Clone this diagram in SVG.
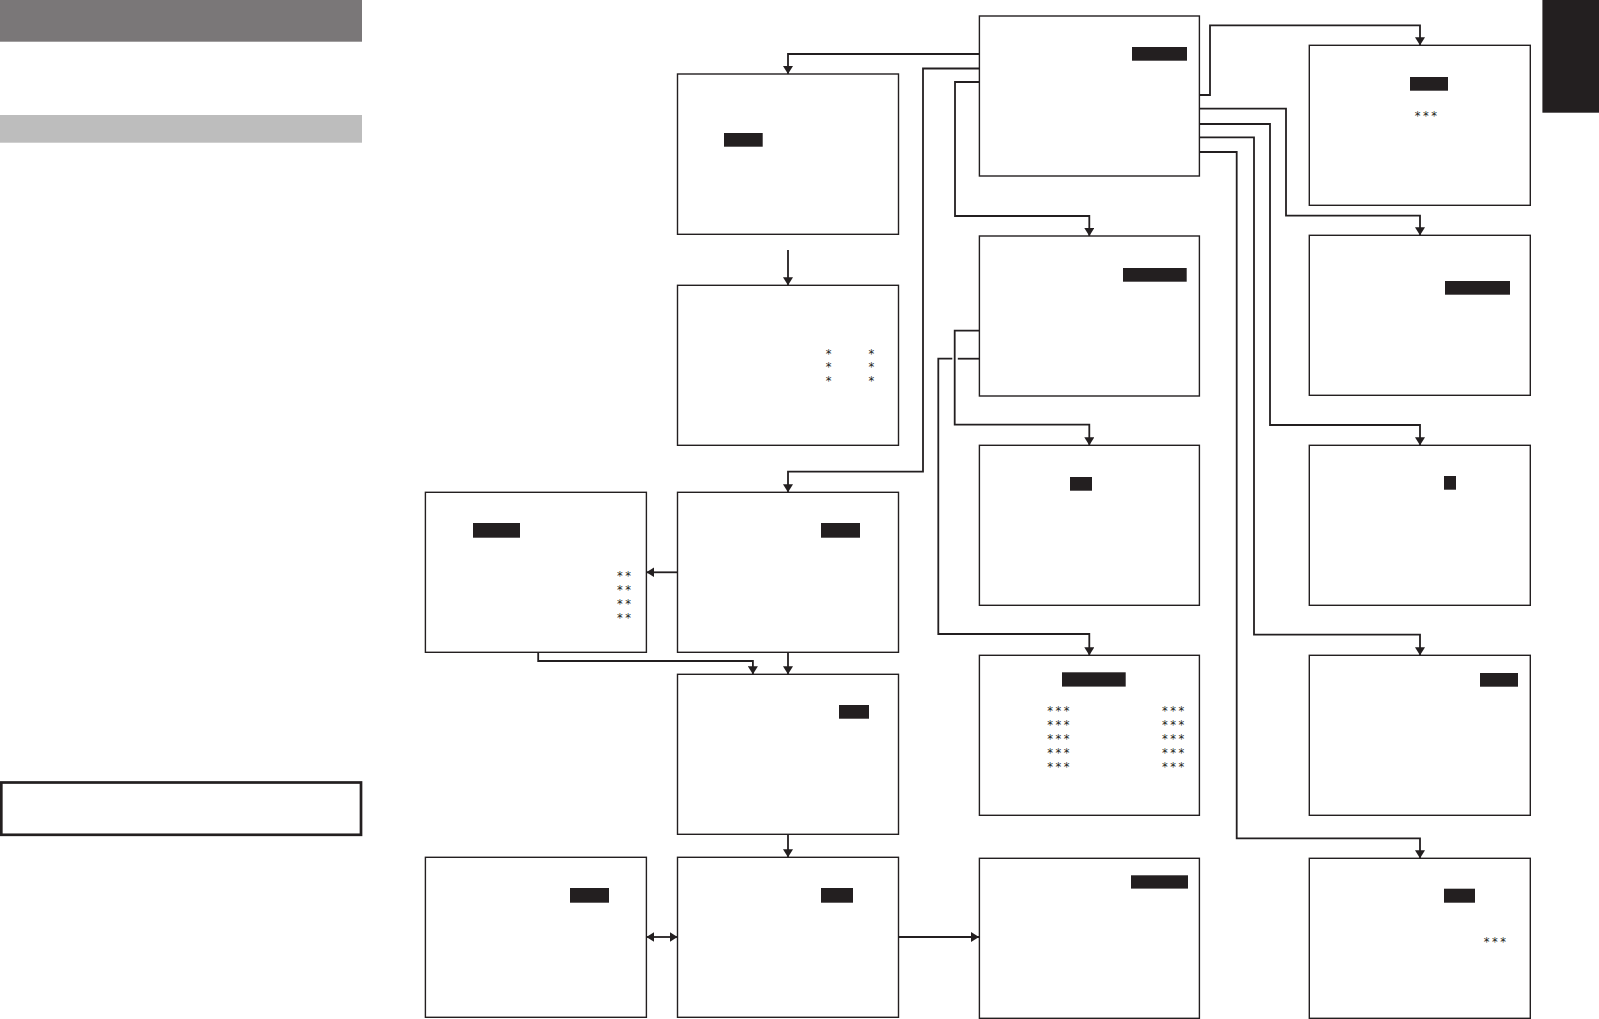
<svg xmlns="http://www.w3.org/2000/svg" width="1599" height="1019" viewBox="0 0 1599 1019">
<style>
.box{fill:#fff;stroke:#231f20;stroke-width:1.4}
.hl{fill:#231f20}
.ast{font-family:"DejaVu Sans","Liberation Sans",sans-serif;font-size:11.5px;fill:#231f20;text-anchor:middle;letter-spacing:2.5px}
.ast1{font-family:"DejaVu Sans","Liberation Sans",sans-serif;font-size:11.5px;fill:#231f20;text-anchor:middle}
.con{fill:none;stroke:#231f20;stroke-width:1.8}
</style>
<defs>
<marker id="arr" viewBox="0 0 8 10" refX="8" refY="5" markerWidth="8" markerHeight="10" markerUnits="userSpaceOnUse" orient="auto-start-reverse">
<path d="M0,0 L8,5 L0,10 z" fill="#231f20"/>
</marker>
</defs>
<rect width="1599" height="1019" fill="#fff"/>
<g id="header">
<rect x="0" y="0" width="362" height="41.7" fill="#7a7778"/>
<rect x="0" y="115" width="362" height="27.7" fill="#bdbdbd"/>
<rect x="1.3" y="782.5" width="359.7" height="52.3" fill="none" stroke="#231f20" stroke-width="2.7"/>
<rect x="1542.4" y="0" width="56.6" height="112.7" fill="#231f20"/>
</g>
<g id="connectors">
<path class="con" d="M979,54 H788 V74" marker-end="url(#arr)"/>
<path class="con" d="M979,68.5 H923 V471.7 H788 V492.3" marker-end="url(#arr)"/>
<path class="con" d="M979,82 H955 V216 H1089.3 V236" marker-end="url(#arr)"/>
<path class="con" d="M979,330.7 H954.7 V424.7 H1089.3 V445.3" marker-end="url(#arr)"/>
<path class="con" d="M979,358.7 H957.8"/>
<path class="con" d="M952.3,358.7 H938.3 V634 H1089.3 V655.3" marker-end="url(#arr)"/>
<path class="con" d="M1200,95 H1210 V25.3 H1420 V45.3" marker-end="url(#arr)"/>
<path class="con" d="M1200,108.7 H1286 V215.7 H1420 V235.3" marker-end="url(#arr)"/>
<path class="con" d="M1200,124 H1270 V425 H1420 V445.3" marker-end="url(#arr)"/>
<path class="con" d="M1200,137.3 H1254 V634.7 H1420 V655.3" marker-end="url(#arr)"/>
<path class="con" d="M1200,152 H1236.7 V838.3 H1420 V858.3" marker-end="url(#arr)"/>
<path class="con" d="M788,250 V285.3" marker-end="url(#arr)"/>
<path class="con" d="M677.5,572.3 H646.4" marker-end="url(#arr)"/>
<path class="con" d="M538.2,652.3 V661 H752.9 V674.3" marker-end="url(#arr)"/>
<path class="con" d="M788,652.3 V674.3" marker-end="url(#arr)"/>
<path class="con" d="M788,834.3 V857.3" marker-end="url(#arr)"/>
<path class="con" d="M646.4,937 H677.5" marker-start="url(#arr)" marker-end="url(#arr)"/>
<path class="con" d="M898.6,937 H979" marker-end="url(#arr)"/>
</g>
<g id="node-c1">
<rect class="box" x="979.4" y="16" width="220" height="160"/>
<rect class="hl" x="1132" y="47" width="55" height="13.7"/>
</g>
<g id="node-d1">
<rect class="box" x="1309.3" y="45.3" width="221" height="160"/>
<rect class="hl" x="1410" y="77" width="38" height="13.7"/>
<text class="ast" x="1427.2" y="119.5">***</text>
</g>
<g id="node-b1">
<rect class="box" x="677.5" y="74" width="221" height="160.3"/>
<rect class="hl" x="724" y="133" width="38.7" height="13.7"/>
</g>
<g id="node-b2">
<rect class="box" x="677.5" y="285.3" width="221" height="160"/>
<text class="ast1"><tspan x="828.7" y="357.5">*</tspan><tspan x="828.7" y="370.8">*</tspan><tspan x="828.7" y="385.1">*</tspan></text>
<text class="ast1"><tspan x="871.3" y="357.5">*</tspan><tspan x="871.3" y="370.8">*</tspan><tspan x="871.3" y="385.1">*</tspan></text>
</g>
<g id="node-c2">
<rect class="box" x="979.4" y="236" width="220" height="160"/>
<rect class="hl" x="1123" y="268" width="63.7" height="13.7"/>
</g>
<g id="node-c3">
<rect class="box" x="979.4" y="445.3" width="220" height="160"/>
<rect class="hl" x="1070" y="477" width="22" height="13.7"/>
</g>
<g id="node-d2">
<rect class="box" x="1309.3" y="235.3" width="221" height="160"/>
<rect class="hl" x="1445" y="281" width="65" height="13.7"/>
</g>
<g id="node-d3">
<rect class="box" x="1309.3" y="445.3" width="221" height="160"/>
<rect class="hl" x="1444" y="476" width="12" height="13.7"/>
</g>
<g id="node-a3">
<rect class="box" x="425.4" y="492.3" width="221" height="160"/>
<rect class="hl" x="473" y="523" width="47" height="14.7"/>
<text class="ast"><tspan x="625.3" y="580.1">**</tspan><tspan x="625.3" y="593.8">**</tspan><tspan x="625.3" y="607.8">**</tspan><tspan x="625.3" y="621.5">**</tspan></text>
</g>
<g id="node-b3">
<rect class="box" x="677.5" y="492.3" width="221" height="160"/>
<rect class="hl" x="821" y="523" width="39" height="14.7"/>
</g>
<g id="node-b4">
<rect class="box" x="677.5" y="674.3" width="221" height="160"/>
<rect class="hl" x="839" y="705" width="30" height="13.7"/>
</g>
<g id="node-c4">
<rect class="box" x="979.4" y="655.3" width="220" height="160"/>
<rect class="hl" x="1062" y="672.3" width="63.7" height="14.3"/>
<text class="ast"><tspan x="1059.5" y="715.1">***</tspan><tspan x="1059.5" y="728.5">***</tspan><tspan x="1059.5" y="742.8">***</tspan><tspan x="1059.5" y="756.8">***</tspan><tspan x="1059.5" y="770.8">***</tspan></text>
<text class="ast"><tspan x="1174.4" y="715.1">***</tspan><tspan x="1174.4" y="728.5">***</tspan><tspan x="1174.4" y="742.8">***</tspan><tspan x="1174.4" y="756.8">***</tspan><tspan x="1174.4" y="770.8">***</tspan></text>
</g>
<g id="node-c5">
<rect class="box" x="979.4" y="858.3" width="220" height="160"/>
<rect class="hl" x="1131" y="875.3" width="57" height="13.3"/>
</g>
<g id="node-d4">
<rect class="box" x="1309.3" y="655.3" width="221" height="160"/>
<rect class="hl" x="1480" y="673" width="38" height="13.7"/>
</g>
<g id="node-d5">
<rect class="box" x="1309.3" y="858.3" width="221" height="160"/>
<rect class="hl" x="1444" y="888.7" width="31" height="14"/>
<text class="ast" x="1496" y="945.5">***</text>
</g>
<g id="node-a5">
<rect class="box" x="425.4" y="857.3" width="221" height="160"/>
<rect class="hl" x="570" y="888" width="39" height="14.7"/>
</g>
<g id="node-b5">
<rect class="box" x="677.5" y="857.3" width="221" height="160"/>
<rect class="hl" x="821" y="888" width="32" height="14.7"/>
</g>
</svg>
